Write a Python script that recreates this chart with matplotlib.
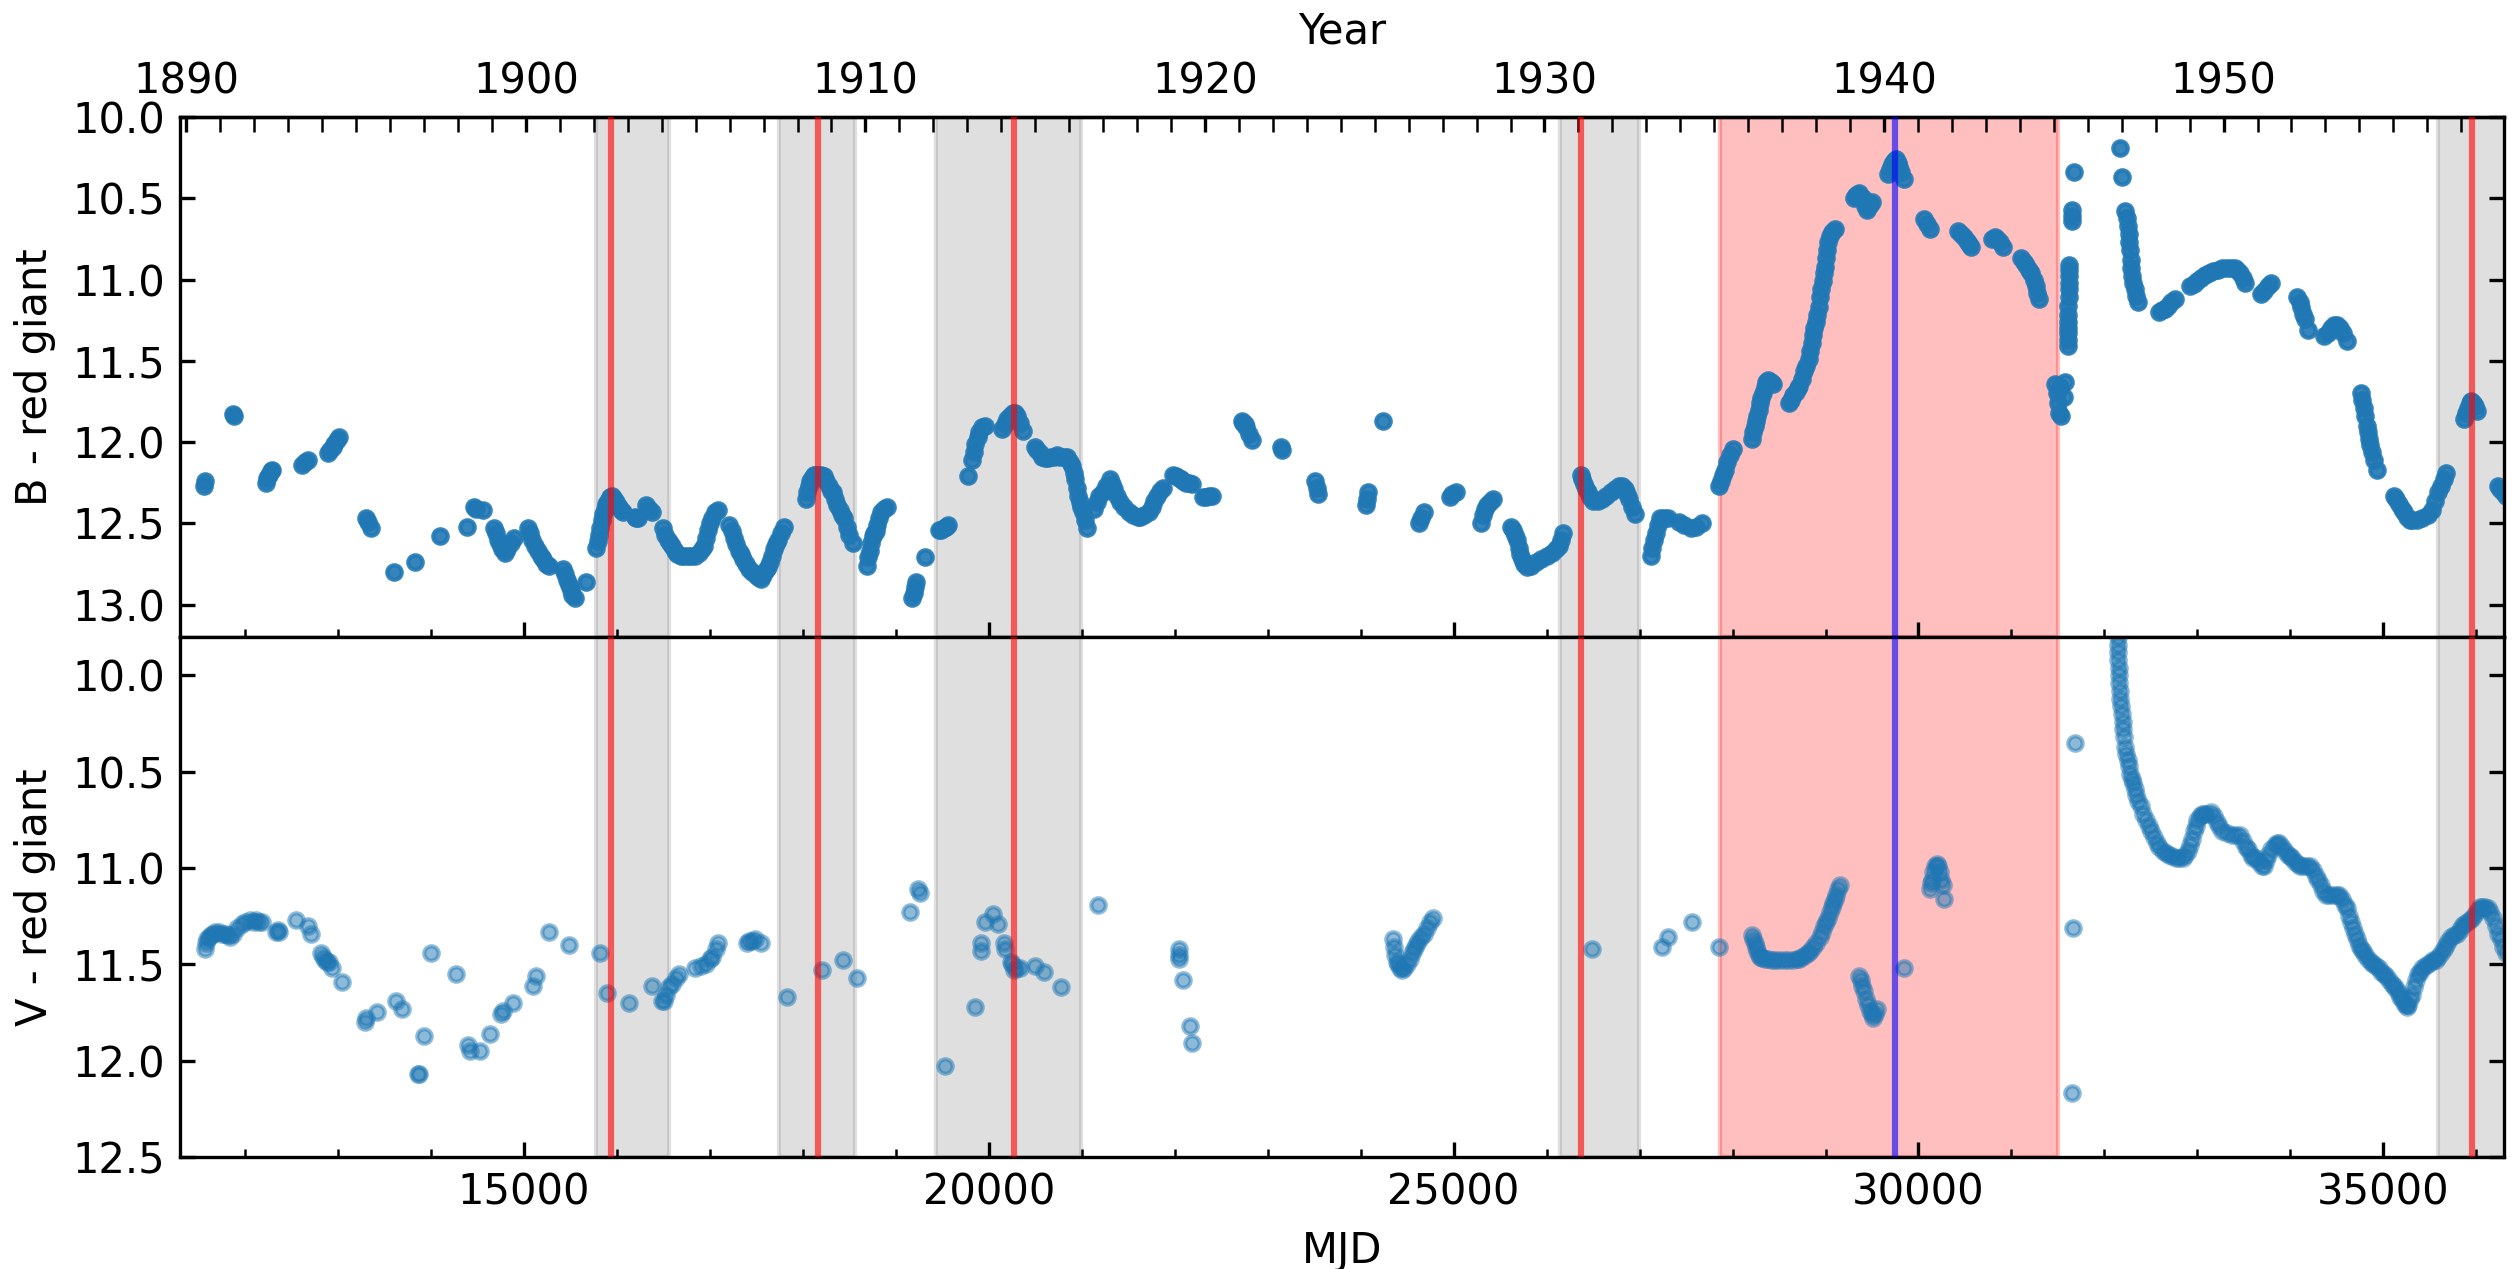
import numpy as np
import matplotlib.pyplot as plt
from matplotlib.ticker import MultipleLocator, FixedLocator

# B band light curve of the red giant, (MJD, mag)
b_early = [(11555, 12.27), (11565, 12.24), (11872, 11.83), (11878, 11.84),
           (12224, 12.25), (12240, 12.22), (12260, 12.20), (12280, 12.18), (12291, 12.17),
           (12612, 12.14), (12640, 12.12), (12674, 12.11),
           (12890, 12.07), (12910, 12.05), (12940, 12.03), (12960, 12.01), (12985, 11.99), (13013, 11.97),
           (13303, 12.47), (13320, 12.49), (13353, 12.53), (13606, 12.80), (13828, 12.74),
           (14093, 12.58), (14383, 12.52), (14463, 12.40), (14480, 12.41), (14556, 12.42),
           (14679, 12.53), (14700, 12.56), (14720, 12.60), (14740, 12.63), (14760, 12.66), (14790, 12.68),
           (14820, 12.66), (14860, 12.62), (14895, 12.59),
           (15037, 12.53), (15060, 12.56), (15090, 12.60), (15120, 12.64), (15150, 12.67), (15180, 12.70),
           (15204, 12.72), (15240, 12.75), (15265, 12.76),
           (15420, 12.78), (15440, 12.81), (15460, 12.85), (15480, 12.88), (15500, 12.91), (15520, 12.94),
           (15543, 12.96), (15666, 12.86)]
b_1900s = [(15777, 12.65), (15790, 12.61), (15805, 12.57), (15820, 12.53), (15835, 12.48), (15850, 12.44),
           (15866, 12.41), (15882, 12.38), (15900, 12.36), (15920, 12.34), (15944, 12.33), (15965, 12.35),
           (15985, 12.37), (16005, 12.39), (16024, 12.40), (16045, 12.42), (16067, 12.43),
           (16191, 12.46), (16205, 12.47), (16221, 12.47), (16314, 12.39), (16340, 12.41), (16376, 12.43),
           (16499, 12.53), (16520, 12.57), (16545, 12.60), (16570, 12.62), (16592, 12.64), (16620, 12.67),
           (16650, 12.69), (16684, 12.70), (16720, 12.70), (16760, 12.70), (16800, 12.70), (16839, 12.70),
           (16880, 12.68), (16910, 12.66), (16931, 12.64), (16955, 12.59), (16980, 12.54), (17000, 12.50),
           (17024, 12.47), (17050, 12.43), (17085, 12.42),
           (17209, 12.51), (17235, 12.55), (17260, 12.59), (17285, 12.63), (17310, 12.67), (17332, 12.69),
           (17360, 12.72), (17390, 12.75), (17420, 12.78), (17455, 12.80), (17490, 12.82), (17520, 12.83),
           (17548, 12.84), (17575, 12.82), (17600, 12.79), (17620, 12.77), (17641, 12.74), (17665, 12.70),
           (17690, 12.66), (17710, 12.63), (17733, 12.60), (17760, 12.56), (17795, 12.52),
           (18029, 12.35), (18045, 12.31), (18060, 12.27), (18073, 12.24), (18095, 12.22), (18115, 12.20),
           (18134, 12.20), (18160, 12.20), (18190, 12.20), (18227, 12.21), (18250, 12.24), (18275, 12.27),
           (18300, 12.30), (18319, 12.31), (18345, 12.35), (18370, 12.39), (18395, 12.42), (18420, 12.45),
           (18443, 12.47), (18470, 12.52), (18500, 12.57), (18535, 12.62),
           (18689, 12.76), (18705, 12.71), (18720, 12.67), (18735, 12.62), (18750, 12.58), (18765, 12.56),
           (18782, 12.55), (18800, 12.51), (18820, 12.47), (18844, 12.43), (18870, 12.41), (18905, 12.40)]
b_1910s = [(19177, 12.96), (19190, 12.93), (19205, 12.89), (19220, 12.86), (19313, 12.71),
           (19467, 12.54), (19490, 12.54), (19515, 12.53), (19540, 12.52), (19560, 12.51), (19776, 12.21),
           (19819, 12.11), (19835, 12.06), (19856, 12.01), (19878, 11.97), (19899, 11.94), (19930, 11.91),
           (19961, 11.90), (20146, 11.92), (20175, 11.89), (20200, 11.86), (20226, 11.84), (20255, 11.82),
           (20282, 11.82), (20305, 11.84), (20330, 11.88), (20362, 11.93),
           (20498, 12.03), (20520, 12.05), (20545, 12.07), (20575, 12.09), (20609, 12.10), (20640, 12.10),
           (20670, 12.09), (20700, 12.09), (20732, 12.08), (20770, 12.09), (20810, 12.09), (20843, 12.09),
           (20870, 12.12), (20895, 12.15), (20917, 12.19), (20930, 12.23), (20945, 12.28), (20960, 12.33),
           (20975, 12.37), (20990, 12.40), (21010, 12.43), (21030, 12.48), (21053, 12.53),
           (21133, 12.41), (21160, 12.37), (21190, 12.33), (21226, 12.31), (21260, 12.27), (21300, 12.23),
           (21325, 12.26), (21349, 12.29), (21380, 12.33), (21411, 12.37), (21450, 12.40), (21503, 12.43),
           (21550, 12.45), (21600, 12.46), (21627, 12.46), (21670, 12.45), (21720, 12.43), (21750, 12.40),
           (21780, 12.36), (21812, 12.33), (21840, 12.30), (21874, 12.28),
           (21985, 12.20), (22010, 12.21), (22040, 12.22), (22065, 12.23), (22090, 12.24), (22120, 12.25),
           (22150, 12.25), (22188, 12.26), (22306, 12.34), (22340, 12.34), (22370, 12.33), (22399, 12.33)]
b_1920s = [(22719, 11.87), (22735, 11.88), (22750, 11.89), (22768, 11.91), (22800, 11.95), (22830, 11.99),
           (23138, 12.03), (23150, 12.05), (23509, 12.24), (23525, 12.28), (23540, 12.32),
           (24052, 12.39), (24065, 12.35), (24083, 12.31), (24237, 11.87),
           (24632, 12.50), (24650, 12.47), (24681, 12.43), (24959, 12.34), (24985, 12.32), (25020, 12.31),
           (25298, 12.50), (25320, 12.45), (25340, 12.41), (25360, 12.39), (25390, 12.37), (25422, 12.35),
           (25619, 12.52), (25640, 12.54), (25660, 12.57), (25681, 12.60), (25700, 12.65), (25715, 12.69),
           (25730, 12.72), (25760, 12.75), (25792, 12.77), (25830, 12.76), (25884, 12.74), (25940, 12.72),
           (26008, 12.70), (26060, 12.68), (26100, 12.66), (26131, 12.64), (26150, 12.60), (26174, 12.56),
           (26366, 12.20), (26385, 12.23), (26400, 12.26), (26420, 12.29), (26440, 12.31), (26470, 12.34),
           (26502, 12.36), (26550, 12.36), (26594, 12.35), (26640, 12.33), (26687, 12.31), (26740, 12.29),
           (26780, 12.27), (26810, 12.27), (26840, 12.29), (26865, 12.32), (26890, 12.35), (26920, 12.40),
           (26946, 12.44), (27118, 12.70), (27135, 12.65), (27155, 12.60), (27180, 12.56), (27200, 12.51),
           (27223, 12.47), (27260, 12.47), (27303, 12.47),
           (27427, 12.49), (27480, 12.51), (27550, 12.53), (27610, 12.52), (27674, 12.50)]
b_outburst = [(27859, 12.27), (27880, 12.24), (27900, 12.20), (27921, 12.17), (27945, 12.12), (27970, 12.08),
              (28001, 12.04), (28212, 11.98), (28225, 11.94), (28240, 11.90), (28255, 11.87), (28268, 11.84),
              (28282, 11.80), (28296, 11.76), (28310, 11.73), (28324, 11.70), (28345, 11.66), (28365, 11.63),
              (28381, 11.62), (28410, 11.63), (28437, 11.645),
              (28605, 11.76), (28630, 11.74), (28655, 11.71), (28680, 11.69), (28700, 11.67), (28717, 11.655),
              (28745, 11.61), (28773, 11.56), (28795, 11.53), (28818, 11.49), (28835, 11.44), (28850, 11.39),
              (28865, 11.34), (28880, 11.30), (28895, 11.26), (28910, 11.22), (28925, 11.17), (28940, 11.11),
              (28955, 11.06), (28970, 11.01), (28985, 10.96), (28998, 10.92), (29010, 10.87), (29020, 10.82),
              (29030, 10.77), (29045, 10.73), (29065, 10.71), (29099, 10.69),
              (29307, 10.50), (29330, 10.48), (29363, 10.47), (29400, 10.50), (29430, 10.55), (29447, 10.57),
              (29475, 10.54), (29503, 10.52),
              (29671, 10.35), (29690, 10.32), (29710, 10.29), (29735, 10.27), (29756, 10.26), (29775, 10.28),
              (29790, 10.31), (29810, 10.34), (29840, 10.38), (30064, 10.63), (30090, 10.66), (30120, 10.69),
              (30429, 10.70), (30460, 10.72), (30490, 10.74), (30520, 10.76), (30545, 10.78), (30569, 10.80),
              (30794, 10.75), (30820, 10.74), (30850, 10.75), (30880, 10.77), (30906, 10.80),
              (31102, 10.87), (31130, 10.89), (31160, 10.91), (31190, 10.94), (31215, 10.96), (31240, 11.00),
              (31260, 11.04), (31280, 11.08), (31299, 11.12),
              (31470, 11.64), (31490, 11.70), (31500, 11.76), (31510, 11.82), (31530, 11.84), (31520, 11.66),
              (31560, 11.72), (31575, 11.63),
              (31605, 11.41), (31607, 11.37), (31607, 11.33), (31607, 11.30), (31608, 11.26), (31610, 11.22),
              (31613, 11.16), (31615, 11.11), (31620, 11.06), (31622, 11.02), (31624, 10.98), (31624, 10.94),
              (31624, 10.91), (31649, 10.64), (31648, 10.61), (31647, 10.57), (31669, 10.34)]
b_late = [(32169, 10.19), (32186, 10.37), (32225, 10.58), (32240, 10.62), (32253, 10.67), (32260, 10.72),
          (32267, 10.77), (32274, 10.82), (32281, 10.88), (32290, 10.93), (32300, 10.98), (32309, 11.02),
          (32325, 11.06), (32345, 11.10), (32365, 11.14),
          (32590, 11.20), (32620, 11.19), (32650, 11.18), (32680, 11.16), (32720, 11.14), (32758, 11.12),
          (32926, 11.04), (32960, 11.03), (33000, 11.01), (33040, 10.99), (33080, 10.97), (33123, 10.96),
          (33170, 10.95), (33220, 10.94), (33270, 10.93), (33319, 10.93), (33360, 10.93), (33400, 10.93),
          (33431, 10.94), (33460, 10.96), (33490, 10.99), (33515, 11.02),
          (33684, 11.09), (33720, 11.07), (33760, 11.04), (33796, 11.02),
          (34077, 11.11), (34100, 11.14), (34120, 11.17), (34140, 11.21), (34161, 11.245), (34189, 11.31),
          (34357, 11.35), (34400, 11.33), (34440, 11.30), (34470, 11.28), (34497, 11.28), (34530, 11.30),
          (34570, 11.33), (34610, 11.38),
          (34762, 11.70), (34776, 11.74), (34790, 11.79), (34805, 11.84), (34823, 11.90), (34835, 11.94),
          (34846, 11.98), (34860, 12.02), (34874, 12.06), (34900, 12.11), (34930, 12.17),
          (35115, 12.33), (35140, 12.35), (35170, 12.38), (35200, 12.41), (35227, 12.43), (35260, 12.46),
          (35290, 12.48), (35311, 12.48), (35360, 12.48), (35420, 12.47), (35480, 12.45), (35520, 12.42),
          (35560, 12.36), (35592, 12.31), (35620, 12.27), (35650, 12.23), (35676, 12.19),
          (35873, 11.86), (35890, 11.82), (35910, 11.79), (35930, 11.76), (35946, 11.75), (35970, 11.76),
          (35990, 11.78), (36013, 11.81), (36237, 12.27), (36260, 12.29), (36290, 12.31), (36320, 12.33)]

# V band light curve of the red giant, (MJD, mag)
v_early = [(11563, 11.42), (11575, 11.39), (11590, 11.37), (11610, 11.36), (11630, 11.35), (11656, 11.34),
           (11680, 11.33), (11718, 11.33), (11750, 11.34), (11780, 11.34), (11810, 11.35), (11841, 11.36),
           (11872, 11.34), (11910, 11.31), (11964, 11.29), (12000, 11.28), (12050, 11.27), (12090, 11.28),
           (12119, 11.27), (12150, 11.28), (12181, 11.28), (12335, 11.33), (12350, 11.32), (12366, 11.33),
           (12551, 11.27), (12674, 11.30), (12705, 11.34),
           (12816, 11.44), (12840, 11.46), (12859, 11.48), (12880, 11.49), (12902, 11.49), (12939, 11.52),
           (13044, 11.59), (13291, 11.80), (13300, 11.78), (13414, 11.75), (13618, 11.69), (13692, 11.73),
           (13860, 12.07), (13870, 12.07), (13920, 11.87), (14000, 11.44), (14266, 11.55),
           (14401, 11.92), (14420, 11.95), (14525, 11.95), (14636, 11.86), (14753, 11.76), (14770, 11.74),
           (14877, 11.70), (15099, 11.61), (15130, 11.56), (15265, 11.33), (15481, 11.40)]
v_1900s = [(15821, 11.44), (15895, 11.65), (16129, 11.70), (16376, 11.61),
           (16481, 11.69), (16500, 11.69), (16530, 11.66), (16560, 11.62), (16592, 11.60), (16630, 11.57),
           (16672, 11.55), (16839, 11.52), (16900, 11.51), (16962, 11.50), (17000, 11.47), (17024, 11.46),
           (17060, 11.42), (17085, 11.39), (17394, 11.39), (17425, 11.38), (17455, 11.38), (17486, 11.37),
           (17548, 11.39), (17826, 11.67), (18208, 11.53), (18431, 11.48), (18579, 11.57)]
v_1910s = [(19147, 11.23), (19239, 11.11), (19264, 11.13), (19529, 12.03), (19850, 11.72),
           (19918, 11.39), (19920, 11.43), (19961, 11.28), (20041, 11.24), (20103, 11.29), (20165, 11.39),
           (20170, 11.42), (20239, 11.49), (20250, 11.50), (20270, 11.53), (20290, 11.52), (20331, 11.52),
           (20498, 11.51), (20590, 11.54), (20775, 11.62), (21176, 11.19),
           (22040, 11.42), (22042, 11.45), (22045, 11.47), (22090, 11.58), (22164, 11.82), (22182, 11.91)]
v_1920s = [(24342, 11.37), (24355, 11.41), (24373, 11.45), (24390, 11.49), (24403, 11.50), (24420, 11.52),
           (24447, 11.53), (24470, 11.52), (24500, 11.50), (24527, 11.47), (24550, 11.44), (24575, 11.42),
           (24600, 11.40), (24619, 11.38), (24650, 11.36), (24681, 11.34), (24710, 11.31), (24743, 11.28),
           (24773, 11.26), (26489, 11.42), (27242, 11.41), (27303, 11.36), (27562, 11.28)]
v_outburst = [(27859, 11.41),
              (28212, 11.35), (28225, 11.37), (28240, 11.39), (28255, 11.41), (28268, 11.43), (28285, 11.45),
              (28300, 11.46), (28320, 11.465), (28350, 11.47), (28381, 11.47), (28420, 11.475), (28460, 11.475),
              (28500, 11.475), (28549, 11.475), (28600, 11.475), (28650, 11.475), (28690, 11.47), (28717, 11.47),
              (28750, 11.46), (28780, 11.45), (28810, 11.44), (28830, 11.43), (28870, 11.41), (28900, 11.39),
              (28942, 11.36), (28965, 11.33), (28985, 11.30), (29005, 11.28), (29026, 11.26), (29045, 11.23),
              (29065, 11.20), (29085, 11.18), (29099, 11.16), (29115, 11.14), (29135, 11.11), (29155, 11.09),
              (29363, 11.56), (29378, 11.58), (29391, 11.61), (29410, 11.64), (29436, 11.68), (29455, 11.71),
              (29475, 11.74), (29495, 11.76), (29514, 11.78), (29535, 11.76), (29559, 11.73), (29840, 11.52),
              (30120, 11.11), (30130, 11.08), (30148, 11.06), (30160, 11.02), (30180, 10.99), (30200, 10.98),
              (30215, 10.99), (30230, 11.02), (30245, 11.06), (30261, 11.09), (30277, 11.16),
              (31652, 12.17), (31664, 11.31), (31680, 10.35)]
v_late = [(32141, 9.80), (32145, 9.84), (32148, 9.88), (32150, 9.92), (32152, 9.96), (32155, 10.00),
          (32160, 10.04), (32165, 10.08), (32172, 10.12), (32180, 10.16), (32188, 10.20), (32197, 10.24),
          (32205, 10.28), (32214, 10.32), (32225, 10.37), (32237, 10.41), (32250, 10.44), (32264, 10.47),
          (32280, 10.51), (32295, 10.54), (32309, 10.56), (32325, 10.59), (32345, 10.62), (32365, 10.65),
          (32390, 10.68), (32420, 10.72), (32450, 10.75), (32478, 10.78), (32505, 10.81), (32535, 10.84),
          (32565, 10.87), (32590, 10.89), (32625, 10.91), (32660, 10.92), (32695, 10.93), (32730, 10.94),
          (32765, 10.95), (32800, 10.95), (32842, 10.95), (32870, 10.93), (32895, 10.91), (32920, 10.88),
          (32940, 10.85), (32960, 10.81), (32980, 10.78), (33000, 10.75), (33025, 10.73), (33050, 10.72),
          (33067, 10.72), (33100, 10.72), (33151, 10.71), (33180, 10.73), (33210, 10.76), (33235, 10.78),
          (33270, 10.81), (33319, 10.82), (33370, 10.83), (33420, 10.83), (33459, 10.83), (33490, 10.86),
          (33520, 10.89), (33544, 10.90), (33575, 10.93), (33600, 10.95), (33628, 10.95), (33660, 10.97),
          (33690, 10.99), (33712, 10.99), (33740, 10.96), (33765, 10.93), (33796, 10.90), (33830, 10.88),
          (33860, 10.87), (33880, 10.87), (33910, 10.89), (33940, 10.91), (33970, 10.93), (33993, 10.94),
          (34020, 10.95), (34050, 10.97), (34080, 10.98), (34105, 10.99), (34140, 10.99), (34180, 10.99),
          (34217, 10.99), (34245, 11.01), (34275, 11.04), (34301, 11.06), (34325, 11.09), (34350, 11.12),
          (34385, 11.14), (34420, 11.14), (34460, 11.14), (34500, 11.14), (34526, 11.14), (34555, 11.16),
          (34585, 11.19), (34610, 11.21), (34630, 11.25), (34650, 11.28), (34672, 11.31), (34694, 11.34),
          (34715, 11.37), (34740, 11.40), (34760, 11.42), (34778, 11.43), (34805, 11.45), (34835, 11.47),
          (34865, 11.49), (34891, 11.50), (34920, 11.51), (34950, 11.52), (34980, 11.54), (35003, 11.55),
          (35030, 11.56), (35060, 11.58), (35090, 11.60), (35115, 11.61), (35140, 11.63), (35165, 11.65),
          (35185, 11.67), (35199, 11.68), (35220, 11.70), (35240, 11.71), (35255, 11.72), (35270, 11.71),
          (35290, 11.68), (35311, 11.66), (35330, 11.62), (35350, 11.58), (35370, 11.55), (35395, 11.54),
          (35420, 11.52), (35450, 11.51), (35480, 11.50), (35510, 11.49), (35540, 11.48), (35564, 11.48),
          (35590, 11.46), (35620, 11.44), (35648, 11.42), (35676, 11.40), (35700, 11.38), (35732, 11.36),
          (35760, 11.35), (35790, 11.34), (35820, 11.32), (35844, 11.30), (35870, 11.29), (35900, 11.28),
          (35930, 11.27), (35957, 11.26), (35985, 11.24), (36015, 11.22), (36041, 11.20), (36065, 11.20),
          (36090, 11.20), (36125, 11.21), (36150, 11.23), (36175, 11.26), (36209, 11.30), (36235, 11.34),
          (36265, 11.37), (36290, 11.41), (36320, 11.44)]

# events (MJD)
flare_mjd = [15930, 18167, 20274, 26371, 35957]
flare_windows = [(15777, 16562), (17747, 18565), (19430, 20989), (26140, 26989), (35586, 36700)]
outburst_window = (27870, 31505)
outburst_peak = 29750
year_ticks = [1890, 1900, 1910, 1920, 1930, 1940, 1950]

b = np.array(b_early + b_1900s + b_1910s + b_1920s + b_outburst + b_late)
v = np.array(v_early + v_1900s + v_1910s + v_1920s + v_outburst + v_late)


def mjd2year(m):
    return 2000.0 + (m - 51544.5) / 365.25


def year2mjd(y):
    return 51544.5 + (y - 2000.0) * 365.25


fig = plt.figure(figsize=(2519 / 300, 1269 / 300), dpi=300)
ax1 = fig.add_axes([0.0715, 0.4980, 0.9226, 0.4098])
ax2 = fig.add_axes([0.0715, 0.0883, 0.9226, 0.4098], sharex=ax1)

for ax in (ax1, ax2):
    for a, e in flare_windows:
        ax.axvspan(a, e, color='gray', alpha=0.25, zorder=0)
    ax.axvspan(outburst_window[0], outburst_window[1], color='red', alpha=0.25, zorder=0)
    for t in flare_mjd:
        ax.axvline(t, color='red', alpha=0.6, lw=1.5, zorder=3)
    ax.axvline(outburst_peak, color='blue', alpha=0.6, lw=1.5, zorder=3)

ax1.scatter(b[:, 0], b[:, 1], s=12, color='tab:blue', alpha=0.9, zorder=2)
ax2.scatter(v[:, 0], v[:, 1], s=12, color='tab:blue', alpha=0.5, zorder=2)

ax1.set_xlim(11300, 36300)
ax1.set_ylim(13.2, 10.0)
ax2.set_ylim(12.5, 9.8)

ax1.xaxis.set_major_locator(MultipleLocator(5000))
ax1.xaxis.set_minor_locator(MultipleLocator(1000))
for ax in (ax1, ax2):
    ax.yaxis.set_major_locator(MultipleLocator(0.5))
    ax.tick_params(which='both', direction='in', top=False, right=True, bottom=True)
ax1.tick_params(labelbottom=False)

ax1.set_ylabel('B - red giant')
ax2.set_ylabel('V - red giant')
ax2.set_xlabel('MJD')

secax = ax1.secondary_xaxis('top', functions=(mjd2year, year2mjd))
secax.xaxis.set_major_locator(FixedLocator(year_ticks))
secax.xaxis.set_minor_locator(FixedLocator(range(1890, 1958)))
secax.tick_params(which='both', direction='in', length=3.5)
secax.set_xlabel('Year')

plt.savefig('out.png', dpi=300)
